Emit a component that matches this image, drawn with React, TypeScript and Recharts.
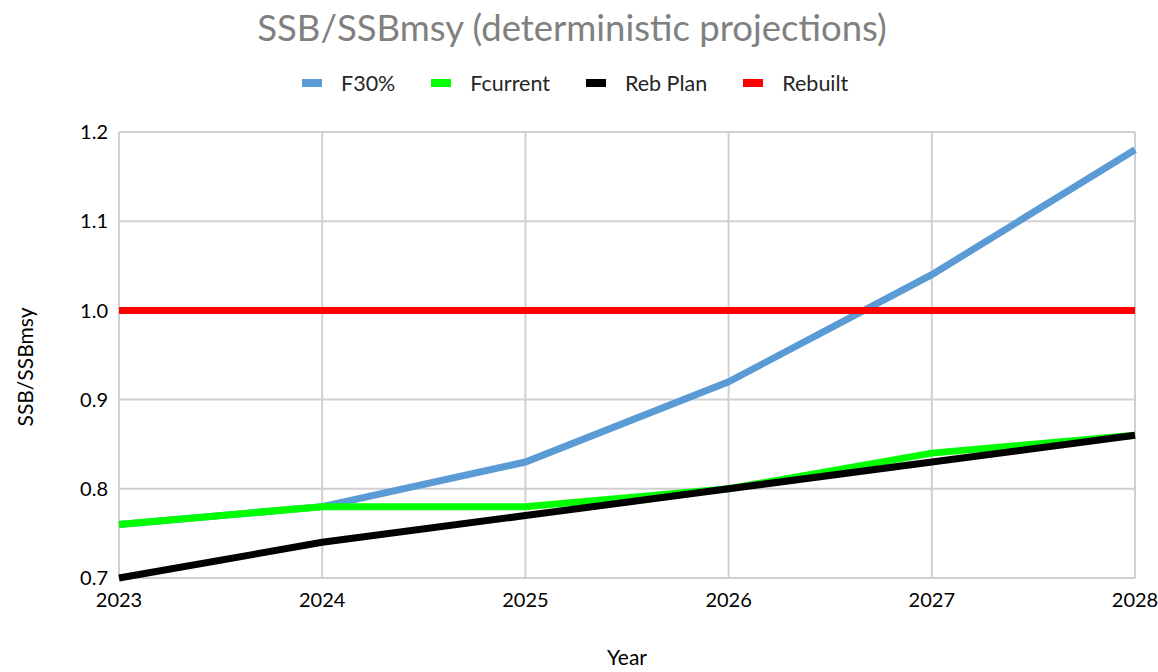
import React from "react";
import { LineChart, Line, XAxis, YAxis, CartesianGrid, Label } from "recharts";

const years = [2023, 2024, 2025, 2026, 2027, 2028];
const f30 = [0.76, 0.78, 0.83, 0.92, 1.04, 1.18];
const fcurrent = [0.76, 0.78, 0.78, 0.8, 0.84, 0.86];
const rebPlan = [0.7, 0.74, 0.77, 0.8, 0.83, 0.86];
const rebuilt = [1.0, 1.0, 1.0, 1.0, 1.0, 1.0];
const yTicks = [0.7, 0.8, 0.9, 1.0, 1.1, 1.2];

const seriesNames = ["F30%", "Fcurrent", "Reb Plan", "Rebuilt"];
const seriesColors = ["#5B9BD5", "#00FF00", "#000000", "#FF0000"];
const seriesKeys = ["f30", "fcurrent", "rebPlan", "rebuilt"];

const data = years.map((y, i) => ({
  year: y,
  f30: f30[i],
  fcurrent: fcurrent[i],
  rebPlan: rebPlan[i],
  rebuilt: rebuilt[i],
}));

const FONT = "Lato, 'Open Sans', sans-serif";

export default function App() {
  return (
    <div style={{ position: "absolute", left: 0, top: 0, width: 1158, height: 672, background: "#fff", fontFamily: FONT }}>
      <div style={{ position: "absolute", top: 4, left: 0, width: 1144, textAlign: "center", fontSize: 36.5, color: "#808080", lineHeight: "46px" }}>
        SSB/SSBmsy (deterministic projections)
      </div>
      <div style={{ position: "absolute", top: 70, left: 302, display: "flex" }}>
        {seriesNames.map((n, i) => (
          <div key={n} style={{ display: "flex", alignItems: "center", marginRight: i < 3 ? 36 : 0 }}>
            <div style={{ width: 20, height: 8, background: seriesColors[i], marginRight: 19 }} />
            <span style={{ fontSize: 21.5, color: "#262626", lineHeight: "26px" }}>{n}</span>
          </div>
        ))}
      </div>
      <div style={{ position: "absolute", left: 0, top: 0 }}>
        <LineChart width={1158} height={672} data={data} margin={{ top: 132, right: 23, left: 0, bottom: 0 }}>
          <CartesianGrid stroke="#d0d0d0" strokeWidth={2} horizontal vertical />
          <XAxis
            dataKey="year"
            type="number"
            domain={[2023, 2028]}
            ticks={years}
            height={94}
            axisLine={false}
            tickLine={false}
            tickSize={0}
            tickMargin={15}
            tick={{ fontSize: 20, fill: "#000", fontFamily: FONT }}
          >
            <Label
              content={(props: any) => {
                const vb = props.viewBox;
                return (
                  <text x={vb.x + vb.width / 2} y={vb.y + 87} textAnchor="middle" fontSize={21} fill="#000" fontFamily={FONT}>
                    Year
                  </text>
                );
              }}
            />
          </XAxis>
          <YAxis
            type="number"
            domain={[0.7, 1.2]}
            ticks={yTicks}
            width={119}
            axisLine={false}
            tickLine={false}
            tickSize={0}
            tickMargin={11}
            tickFormatter={(v: number) => v.toFixed(1)}
            tick={{ fontSize: 20, fill: "#000", fontFamily: FONT }}
          >
            <Label
              content={(props: any) => {
                const vb = props.viewBox;
                const cx = vb.x + 24;
                const cy = 367;
                return (
                  <text x={cx} y={cy} textAnchor="middle" dominantBaseline="central" fontSize={21} fill="#000" fontFamily={FONT} transform={`rotate(-90 ${cx} ${cy})`}>
                    SSB/SSBmsy
                  </text>
                );
              }}
            />
          </YAxis>
          {seriesKeys.map((k, i) => (
            <Line
              key={k}
              dataKey={k}
              name={seriesNames[i]}
              stroke={seriesColors[i]}
              strokeWidth={7}
              dot={false}
              activeDot={false}
              type="linear"
              isAnimationActive={false}
            />
          ))}
        </LineChart>
      </div>
    </div>
  );
}
